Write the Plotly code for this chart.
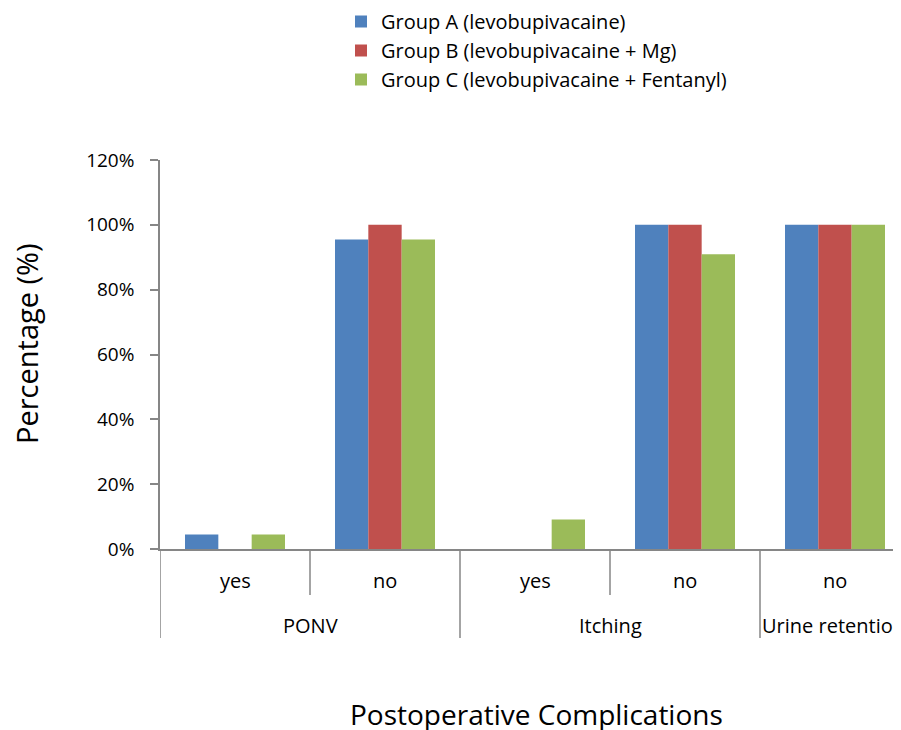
import plotly.graph_objects as go

categories = ["yes", "no", "yes", "no", "no"]
groups = ["PONV", "Itching", "Urine retention"]
group_a = [4.5, 95.5, 0, 100, 100]
group_b = [0, 100, 0, 100, 100]
group_c = [4.5, 95.5, 9.1, 90.9, 100]
series_names = ["Group A (levobupivacaine)", "Group B (levobupivacaine + Mg)",
                "Group C (levobupivacaine + Fentanyl)"]
colors = ["#4F81BD", "#C0504D", "#9BBB59"]
y_ticks = [0, 20, 40, 60, 80, 100, 120]

FONT = "Open Sans"
AX = "#868686"
x = list(range(len(categories)))

# page has an 8px body margin: figure origin is at window (8, 8)
OFF = 8
L, T = 160 - OFF, 160 - OFF
W, H = 901 - OFF, 730 - OFF
plot_h = 389.0
plot_w = 741.0

fig = go.Figure()
for name, vals, col in zip(series_names, [group_a, group_b, group_c], colors):
    fig.add_trace(go.Bar(x=x, y=vals, name=name, marker=dict(color=col, line=dict(width=0))))

def py(px):
    return -px / plot_h

shapes = []
for d in [0.5, 2.5]:
    shapes.append(dict(type="line", xref="x", yref="paper", x0=d, x1=d, y0=0, y1=py(46),
                       line=dict(color=AX, width=1.5)))
for d in [-0.5, 1.5, 3.5]:
    shapes.append(dict(type="line", xref="x", yref="paper", x0=d, x1=d, y0=0, y1=py(89),
                       line=dict(color=AX, width=1.5)))

lab_font = dict(family=FONT, size=20, color="#000")
annotations = []
for i, c in enumerate(categories):
    annotations.append(dict(x=i, y=py(31), xref="x", yref="paper", text=c, showarrow=False,
                            font=lab_font, yanchor="middle"))
annotations.append(dict(x=0.5, y=py(76), xref="x", yref="paper", text=groups[0], showarrow=False,
                        font=lab_font, yanchor="middle"))
annotations.append(dict(x=2.5, y=py(76), xref="x", yref="paper", text=groups[1], showarrow=False,
                        font=lab_font, yanchor="middle"))
annotations.append(dict(x=3.5, y=py(76), xref="x", yref="paper", text=groups[2], showarrow=False,
                        xanchor="left", xshift=0, font=lab_font, yanchor="middle"))
annotations.append(dict(x=(536 - 160) / plot_w, y=py(165), xref="paper", yref="paper",
                        text="Postoperative Complications", showarrow=False,
                        font=dict(family=FONT, size=28, color="#000"), yanchor="middle"))
annotations.append(dict(x=(26 - 160) / plot_w, y=1 - (344 - 160) / plot_h, xref="paper", yref="paper",
                        text="Percentage (%)", showarrow=False, textangle=-90,
                        font=dict(family=FONT, size=29, color="#000"), xanchor="center", yanchor="middle"))

fig.update_layout(
    width=W, height=H,
    margin=dict(l=L, r=0, t=T, b=H - T - int(plot_h), autoexpand=False),
    paper_bgcolor="white", plot_bgcolor="white",
    barmode="group", bargap=1/3, bargroupgap=0,
    font=dict(family=FONT, size=20, color="#000"),
    showlegend=True,
    legend=dict(x=(341 - 160) / plot_w, y=1 + (T + 6) / plot_h, xanchor="left", yanchor="top",
                font=dict(family=FONT, size=20, color="#000"), bgcolor="rgba(0,0,0,0)",
                itemwidth=30, tracegroupgap=0),
    xaxis=dict(range=[-0.5, 4.44], showticklabels=False, showgrid=False, zeroline=False,
               showline=True, linecolor=AX, linewidth=1.5, ticks="", fixedrange=True),
    yaxis=dict(range=[0, 120], tickvals=y_ticks, ticktext=[f"{v}%" for v in y_ticks],
               showgrid=False, zeroline=False, showline=True, linecolor=AX, linewidth=1.5,
               ticks="outside", ticklen=8, tickcolor=AX, tickwidth=1.5, ticklabelstandoff=12,
               tickfont=dict(family=FONT, size=19, color="#000")),
    shapes=shapes, annotations=annotations,
)
fig.write_html("out.html")
